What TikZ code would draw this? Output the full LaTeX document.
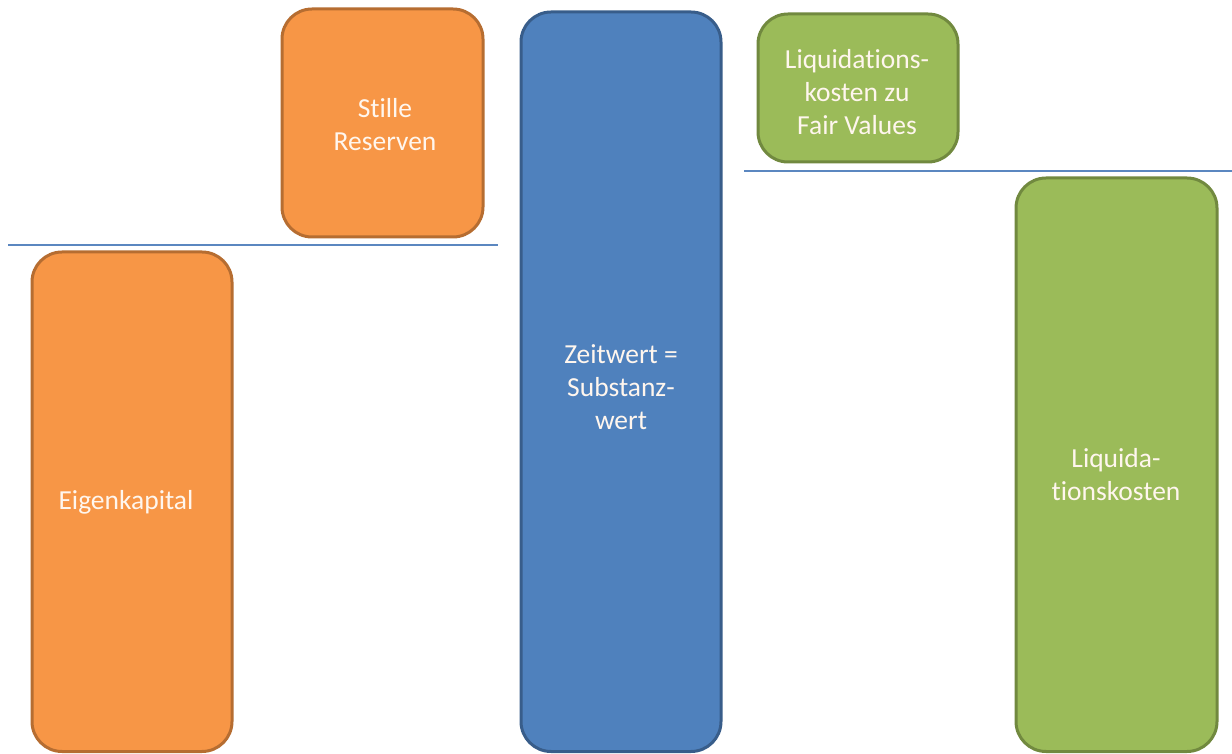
\documentclass[tikz,border=0pt]{standalone}
\usepackage{fontspec}
\setmainfont{Carlito}[Ligatures={NoCommon}]
\definecolor{orfill}{HTML}{F79646}
\definecolor{ordraw}{HTML}{B66D31}
\definecolor{blfill}{HTML}{4F81BD}
\definecolor{bldraw}{HTML}{385D8A}
\definecolor{grfill}{HTML}{9BBB59}
\definecolor{grdraw}{HTML}{71893F}
\definecolor{sep}{HTML}{5B87C0}
\definecolor{lbltext}{HTML}{FFF6EE}
\tikzset{
  block/.style={rounded corners=30pt, line width=3pt, inner sep=0pt},
  orblock/.style={block, fill=orfill, draw=ordraw},
  blblock/.style={block, fill=blfill, draw=bldraw},
  grblock/.style={block, fill=grfill, draw=grdraw},
  lbl/.style={text=lbltext, align=center, font=\fontsize{27.5}{33}\selectfont},
  sepline/.style={draw=sep, line width=1.3pt}
}
\begin{document}
\begin{tikzpicture}[x=1pt,y=1pt]
\useasboundingbox (0,0) rectangle (1232,753);
% columns of value blocks
\draw[orblock] (32,1.5) rectangle (232,501) node[pos=0.5] (ek) {};
\draw[orblock] (282,516) rectangle (483,744) node[pos=0.5] (sr) {};
\draw[blblock] (521,1.5) rectangle (721,741) node[pos=0.5] (zw) {};
\draw[grblock] (758,591) rectangle (958,739) node[pos=0.5] (lfv) {};
\draw[grblock] (1016,1.5) rectangle (1217,575) node[pos=0.5] (lk) {};
% labels
\node[lbl] (ekt) at (126,251) {Eigenkapital};
\node[lbl] (srt) at (385,628) {Stille\\Reserven};
\node[lbl] (zwt) at (621,366) {Zeitwert =\\Substanz-\\wert};
\node[lbl] (lfvt) at (857,661) {Liquidations-\\kosten zu\\Fair Values};
\node[lbl] (lkt) at (1116,278) {Liquida-\\tionskosten};
% reference lines
\coordinate (l1a) at (8,508);
\coordinate (l1b) at (498,508);
\coordinate (l2a) at (744,582);
\coordinate (l2b) at (1232,582);
\draw[sepline] (l1a) -- (l1b);
\draw[sepline] (l2a) -- (l2b);
\end{tikzpicture}
\end{document}
